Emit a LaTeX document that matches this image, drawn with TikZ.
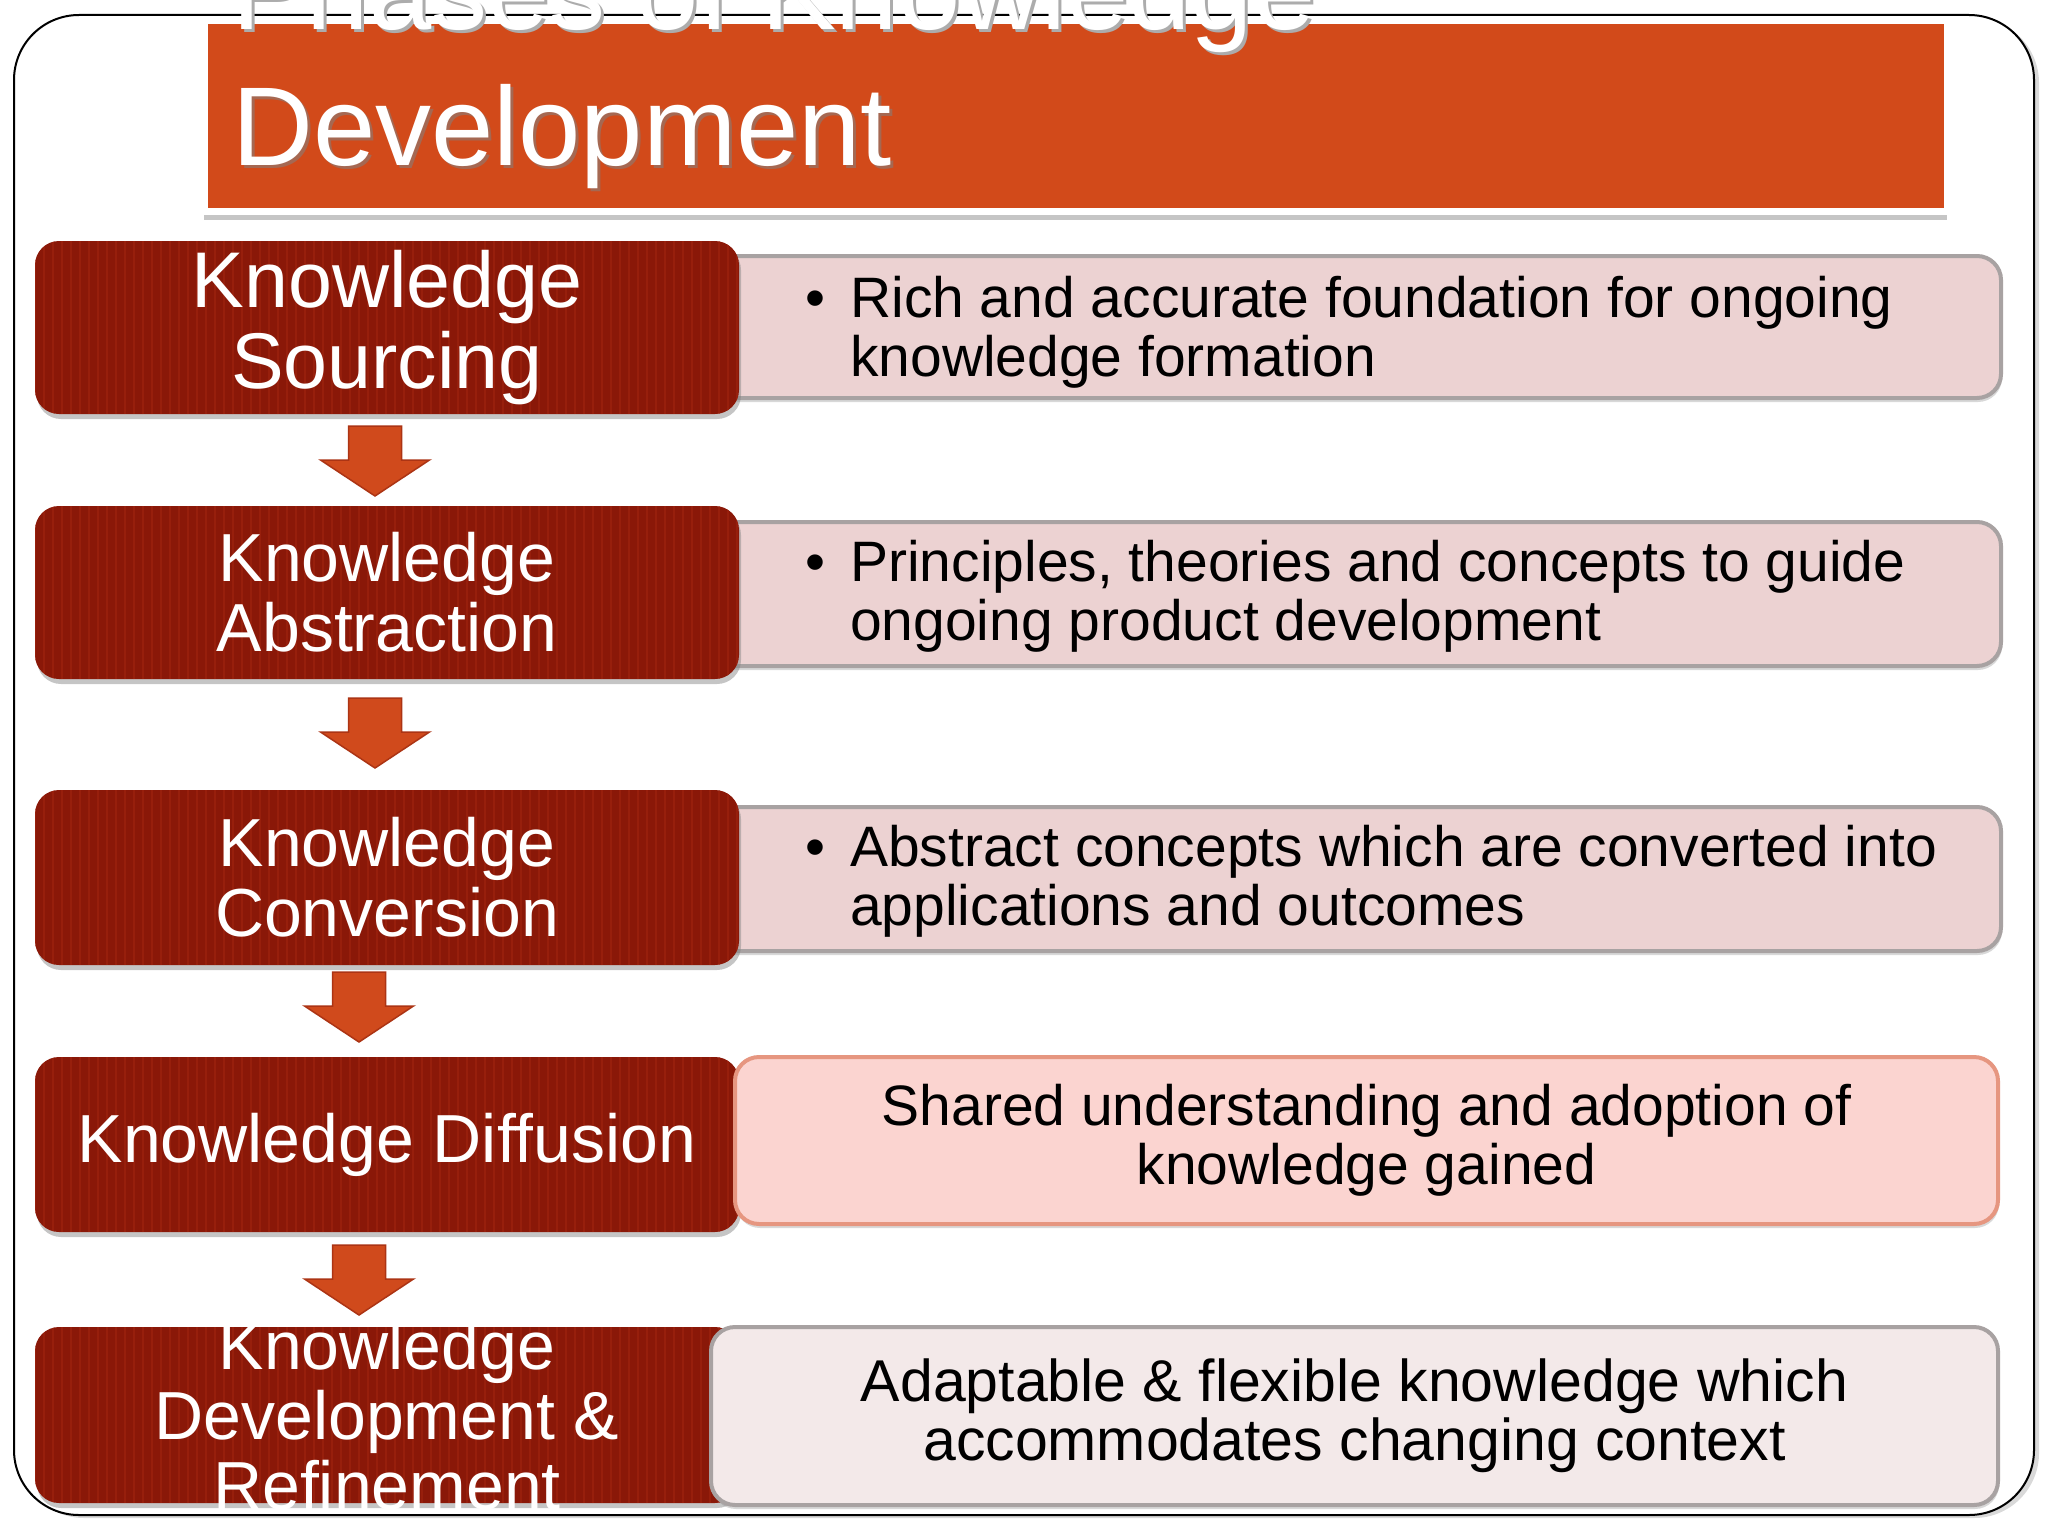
\documentclass[tikz,border=0pt]{standalone}
\usepackage{fontspec}
\setmainfont{Liberation Sans}
\usetikzlibrary{shadows}

\definecolor{titleorange}{RGB}{210,74,26}
\definecolor{phasered}{RGB}{138,24,8}
\definecolor{stripered}{RGB}{168,40,18}
\definecolor{descpink}{RGB}{236,210,210}
\definecolor{descgray}{RGB}{168,162,162}
\definecolor{salmon}{RGB}{251,212,208}
\definecolor{salmonedge}{RGB}{230,150,128}
\definecolor{palepink}{RGB}{243,233,233}
\definecolor{arroworange}{RGB}{208,74,28}
\definecolor{arrowedge}{RGB}{172,52,20}

\begin{document}
\begin{tikzpicture}[x=1pt,y=-1pt,inner sep=0pt,
        frame/.style={draw=black,line width=2pt,fill=white,rounded corners=65pt,
          drop shadow={shadow xshift=5pt,shadow yshift=-3pt,opacity=0.3}},
        banner/.style={fill=titleorange,draw=white,line width=7pt,
          drop shadow={shadow xshift=0pt,shadow yshift=-9pt,opacity=0.45}},
        headline/.style={anchor=base west,text=white,font=\fontsize{112}{134}\selectfont},
        phase/.style={fill=phasered,rounded corners=24pt,minimum width=704pt,
          drop shadow={shadow xshift=2pt,shadow yshift=-5pt,opacity=0.45},
          path picture={\foreach \s in {0,9,...,720}
            \draw[stripered,line width=2.5pt,opacity=0.45]
              ([xshift=\s pt]path picture bounding box.south west) --
              ([xshift=\s pt]path picture bounding box.north west);}},
        phasetext/.style={text=white,align=center,font=\fontsize{68}{70}\selectfont},
        desc/.style={draw=descgray,line width=4pt,fill=descpink,rounded corners=24pt,
          drop shadow={shadow xshift=1pt,shadow yshift=-4pt,opacity=0.3}},
        desctext/.style={anchor=base west,align=left,font=\fontsize{57}{59}\selectfont},
        flow/.style={fill=arroworange,draw=arrowedge,line width=1.5pt,line join=miter}]
        \useasboundingbox (0,0) rectangle (2048,1536);
        % \draw[help lines,step=100] (0,0) grid (2048,1536);
        \draw[frame] (14,15) rectangle (2034,1515);
        % title
        \node[banner,minimum width=1743pt,minimum height=190pt] (title) at (1075.5,116) {};
        \node[headline,text=gray!65] (head1s) at (235,33) {Phases of Knowledge};
        \node[headline] (head1) at (232,30) {Phases of Knowledge};
        \node[headline,text=gray!55!titleorange] (head2s) at (235,168) {Development};
        \node[headline] (head2) at (232,165) {Development};
        % descriptions behind the phases
        \node[desc,minimum width=1301pt,minimum height=142pt] (r1) at (1350.5,327) {};
        \node[desc,minimum width=1301pt,minimum height=144pt] (r2) at (1350.5,594) {};
        \node[desc,minimum width=1301pt,minimum height=144pt] (r3) at (1350.5,879) {};
        % phases
        \node[phase,minimum height=173pt] (k1) at (387,327.5) {};
        \node[phase,minimum height=173pt] (k2) at (387,592.5) {};
        \node[phase,minimum height=175pt] (k3) at (387,877.5) {};
        \node[phase,minimum height=175pt] (k4) at (387,1144.5) {};
        \node[phase,minimum height=176pt] (k5) at (387,1415) {};
        % last two descriptions lie over the phases
        \node[desc,draw=salmonedge,fill=salmon,minimum width=1263pt,minimum height=167pt] (r4) at (1366.5,1140.5) {};
        \node[desc,fill=palepink,minimum width=1287pt,minimum height=178pt] (r5) at (1354.5,1416) {};
        % phase names
        \node[phasetext,font=\fontsize{79}{81}\selectfont] (k1t) at (k1) {Knowledge\\Sourcing};
        \node[phasetext] (k2t) at (k2) {Knowledge\\Abstraction};
        \node[phasetext] (k3t) at (k3) {Knowledge\\Conversion};
        \node[phasetext] (k4t) at (k4) {Knowledge Diffusion};
        \node[phasetext] (k5t) at (k5) {Knowledge\\Development \&\\Refinement};
        % description texts (base = last line)
        \node[desctext] (b1) at (805,317) {\textbullet};
        \node[desctext] (t1) at (850,376) {Rich and accurate foundation for ongoing\\knowledge formation};
        \node[desctext] (b2) at (805,581) {\textbullet};
        \node[desctext] (t2) at (850,640) {Principles, theories and concepts to guide\\ongoing product development};
        \node[desctext] (b3) at (805,866) {\textbullet};
        \node[desctext] (t3) at (850,925) {Abstract concepts which are converted into\\applications and outcomes};
        \node[desctext,anchor=center,align=center] (t4) at (r4) {Shared understanding and adoption of\\knowledge gained};
        \node[desctext,anchor=center,align=center,font=\fontsize{59}{59}\selectfont] (t5) at (r5) {Adaptable \& flexible knowledge which\\accommodates changing context};
        % block arrows between the phases
        \coordinate (a1) at (375,426);
        \coordinate (a2) at (375,698);
        \coordinate (a3) at (359,972);
        \coordinate (a4) at (359,1245);
        \foreach \a in {a1,a2,a3,a4}
          \draw[flow] (\a) ++(-26.5,0) -- ++(53,0) -- ++(0,34) -- ++(28,0)
            -- ++(-54.5,36) -- ++(-54.5,-36) -- ++(28,0) -- cycle;
\end{tikzpicture}
\end{document}
